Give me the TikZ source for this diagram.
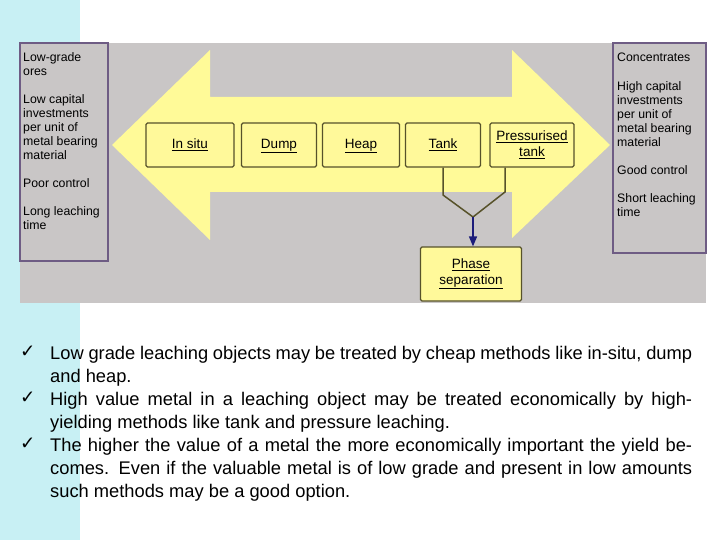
\documentclass[tikz,border=0pt]{standalone}
\usepackage{fontspec}
\usetikzlibrary{arrows.meta}
\setmainfont{Liberation Sans}
\newfontfamily\checkfont{DejaVu Sans}
\definecolor{panel}{HTML}{C9C6C6}
\definecolor{arrowy}{HTML}{FFFA98}
\definecolor{boxy}{HTML}{FFF99A}
\definecolor{boxb}{HTML}{57522A}
\definecolor{purp}{HTML}{6E5C84}
\definecolor{cyanbg}{HTML}{C8F0F4}
\definecolor{navy}{HTML}{1C1C7A}
\begin{document}
\begin{tikzpicture}[x=1pt,y=-1pt,
 procbox/.style={draw=boxb,fill=boxy,line width=1.2pt,rounded corners=1.5pt,minimum height=44pt,align=center,font=\fontsize{13.5}{16}\selectfont,inner sep=1pt},
 sidebox/.style={draw=purp,fill=panel,line width=1.2pt},
 sidetext/.style={anchor=north west,align=left,font=\fontsize{12.3}{14}\selectfont,inner sep=0pt},
 conn/.style={draw=boxb,line width=1.5pt},
 bul/.style={anchor=north west,font=\fontsize{18.3}{23}\selectfont,inner sep=0pt}]
\useasboundingbox (0,0) rectangle (720,540);
\fill[white] (0,0) rectangle (720,540);
\fill[cyanbg] (0,0) rectangle (80,540);
\fill[panel] (20,43) rectangle (706,303);
\fill[arrowy] (112,145) -- (210,50) -- (210,97) -- (512,97) -- (512,50) -- (610,145) -- (512,238) -- (512,192) -- (210,192) -- (210,240) -- cycle;
\draw[sidebox] (20,43) rectangle (108,261);
\draw[sidebox] (613,43) rectangle (706,253);
\node[sidetext] (lt1) at (23,52) {Low-grade\\ores};
\node[sidetext] (lt2) at (23,94) {Low capital\\investments\\per unit of\\metal bearing\\material};
\node[sidetext] (lt3) at (23,178) {Poor control};
\node[sidetext] (lt4) at (23,206) {Long leaching\\time};
\node[sidetext] (rt1) at (617,53) {Concentrates};
\node[sidetext] (rt2) at (617,81) {High capital\\investments\\per unit of\\metal bearing\\material};
\node[sidetext] (rt3) at (617,165) {Good control};
\node[sidetext] (rt4) at (617,193) {Short leaching\\time};
\node[procbox,minimum width=88pt] (insitu) at (190,145) {\strut\underline{In situ}};
\node[procbox,minimum width=75pt] (dump) at (279,145) {\strut\underline{Dump}};
\node[procbox,minimum width=77pt] (heap) at (361,145) {\strut\underline{Heap}};
\node[procbox,minimum width=75pt] (tank) at (443,145) {\strut\underline{Tank}};
\node[procbox,minimum width=84pt] (press) at (532,145) {\underline{Pressurised}\\\underline{tank}};
\node[procbox,minimum width=101pt,minimum height=54pt] (phase) at (471,274) {\underline{Phase}\\\underline{separation}};
\coordinate (j) at (473,217);
\draw[conn] (tank.south) -- (443,195) -- (j);
\draw[conn] (press.south -| 505,0) -- (505,192) -- (j);
\draw[draw=navy,line width=1.5pt,-{Triangle[width=8pt,length=10pt]}] (j) -- (j |- phase.north);
\node[bul] (c1) at (20,346) {\checkfont\bfseries ✓};
\node[bul] (c2) at (20,392) {\checkfont\bfseries ✓};
\node[bul] (c3) at (20,438) {\checkfont\bfseries ✓};
\node[bul,text width=642pt,align=justify] (b1) at (50,346) {Low grade leaching objects may be treated by cheap methods like in-situ, dump and heap.};
\node[bul,text width=642pt,align=justify] (b2) at (50,392) {High value metal in a leaching object may be treated economically by high-yielding methods like tank and pressure leaching.};
\node[bul,text width=642pt,align=justify] (b3) at (50,438) {The higher the value of a metal the more economically important the yield becomes. Even if the valuable metal is of low grade and present in low amounts such methods may be a good option.};
\end{tikzpicture}
\end{document}
